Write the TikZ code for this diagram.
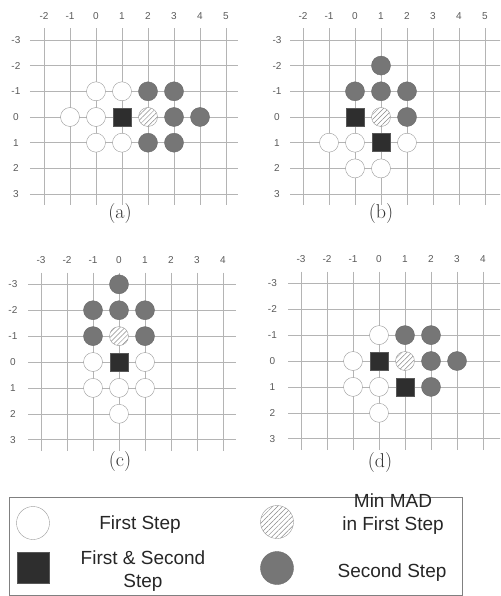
\documentclass[tikz,border=0pt]{standalone}
\usepackage{fontspec}
\newfontfamily\arialfont{Liberation Sans}
\usepackage{tikz}
\usetikzlibrary{patterns.meta}

\definecolor{gridgray}{HTML}{B4B4B4}
\definecolor{tickgray}{HTML}{5A5A5A}
\definecolor{sndgray}{HTML}{767676}
\definecolor{bothgray}{HTML}{2E2E2E}

\tikzset{
  gridline/.style = {draw=gridgray, line width=0.5pt},
  tick/.style     = {font=\arialfont\fontsize{10}{12}\selectfont, text=tickgray, inner sep=0pt},
  caption/.style  = {font=\fontsize{20}{24}\selectfont, text=black!80, inner sep=0pt},
  fst/.style      = {circle, draw=black!40, fill=white, minimum size=19pt, inner sep=0pt},
  minmad/.style   = {circle, draw=black!40, preaction={fill=white},
                     pattern={Lines[angle=45,distance=3.5pt,line width=0.5pt]},
                     pattern color=black!45, minimum size=19pt, inner sep=0pt},
  snd/.style      = {circle, draw=sndgray!90!black, fill=sndgray, minimum size=19pt, inner sep=0pt},
  both/.style     = {rectangle, draw=bothgray!80, fill=bothgray, minimum size=18pt, inner sep=0pt},
  legtext/.style  = {font=\arialfont\fontsize{19}{23}\selectfont, text=black!85, align=center, inner sep=0pt}
}

% grid of one panel: #1 name, #2 first col, #3 last col, #4 left end, #5 right end, #6 row label x
\newcommand{\gridpanel}[6]{%
  \foreach \r in {-3,...,3} {
    \draw[gridline] (#4,\r) -- (#5,\r);
    \node[tick] (#1row\r) at (#6,\r) {\r};
  }
  \foreach \c in {#2,...,#3} {
    \draw[gridline] (\c,-3.45) -- (\c,3.42);
    \node[tick] (#1col\c) at (\c,-3.93) {\c};
  }
}

\begin{document}
\begin{tikzpicture}[x=1pt, y=-1pt]
\useasboundingbox (0,0) rectangle (500,596);
\clip (0,0) rectangle (500,596);

% Panel (a)
\begin{scope}[shift={(96,117)}, x=26pt, y=-25.7pt]
  \gridpanel{a}{-2}{5}{-2.54}{5.46}{-3.08}
  \foreach \c/\r [count=\i] in {0/-1,1/-1,-1/0,0/0,0/1,1/1}
    \node[fst] (aw\i) at (\c,\r) {};
  \foreach \c/\r [count=\i] in {2/-1,3/-1,3/0,4/0,2/1,3/1}
    \node[snd] (ag\i) at (\c,\r) {};
  \node[both]   (ab1) at (1,0) {};
  \node[minmad] (am)  at (2,0) {};
  \node[caption] (acap) at (0.92,3.74) {(a)};
\end{scope}

% Panel (b)
\begin{scope}[shift={(355,117)}, x=26pt, y=-25.7pt]
  \gridpanel{b}{-2}{5}{-2.5}{5.6}{-3.0}
  \foreach \c/\r [count=\i] in {-1/1,0/1,2/1,0/2,1/2}
    \node[fst] (bw\i) at (\c,\r) {};
  \foreach \c/\r [count=\i] in {1/-2,0/-1,1/-1,2/-1,2/0}
    \node[snd] (bg\i) at (\c,\r) {};
  \node[both]   (bb1) at (0,0) {};
  \node[both]   (bb2) at (1,1) {};
  \node[minmad] (bm)  at (1,0) {};
  \node[caption] (bcap) at (1,3.74) {(b)};
\end{scope}

% Panel (c)
\begin{scope}[shift={(119,362)}, x=26pt, y=-25.9pt]
  \gridpanel{c}{-3}{4}{-3.5}{4.5}{-4.08}
  \foreach \c/\r [count=\i] in {-1/0,1/0,-1/1,0/1,1/1,0/2}
    \node[fst] (cw\i) at (\c,\r) {};
  \foreach \c/\r [count=\i] in {0/-3,-1/-2,0/-2,1/-2,-1/-1,1/-1}
    \node[snd] (cg\i) at (\c,\r) {};
  \node[both]   (cb1) at (0,0) {};
  \node[minmad] (cm)  at (0,-1) {};
  \node[caption] (ccap) at (0.04,3.86) {(c)};
\end{scope}

% Panel (d)
\begin{scope}[shift={(379,361)}, x=26pt, y=-25.9pt]
  \gridpanel{d}{-3}{4}{-3.5}{4.75}{-4.1}
  \foreach \c/\r [count=\i] in {0/-1,-1/0,-1/1,0/1,0/2}
    \node[fst] (dw\i) at (\c,\r) {};
  \foreach \c/\r [count=\i] in {1/-1,2/-1,2/0,3/0,2/1}
    \node[snd] (dg\i) at (\c,\r) {};
  \node[both]   (db1) at (0,0) {};
  \node[both]   (db2) at (1,1) {};
  \node[minmad] (dm)  at (1,0) {};
  \node[caption] (dcap) at (0.04,3.9) {(d)};
\end{scope}

% Legend
\draw[draw=black!50, line width=0.6pt] (9,497) rectangle (462,595);
\node[fst, minimum size=33pt]    (lw) at (33,523) {};
\node[legtext]                   (lwt) at (140,525) {First Step};
\node[minmad, minimum size=33pt] (lm) at (277,522) {};
\node[legtext]                   (lmt) at (393,514) {Min MAD\\in First Step};
\node[both, minimum width=32pt, minimum height=31pt] (lb) at (33,568) {};
\node[legtext]                   (lbt) at (143,571) {First \& Second\\Step};
\node[snd, minimum size=33pt]    (lg) at (277,568) {};
\node[legtext]                   (lgt) at (392,573) {Second Step};
\end{tikzpicture}
\end{document}
